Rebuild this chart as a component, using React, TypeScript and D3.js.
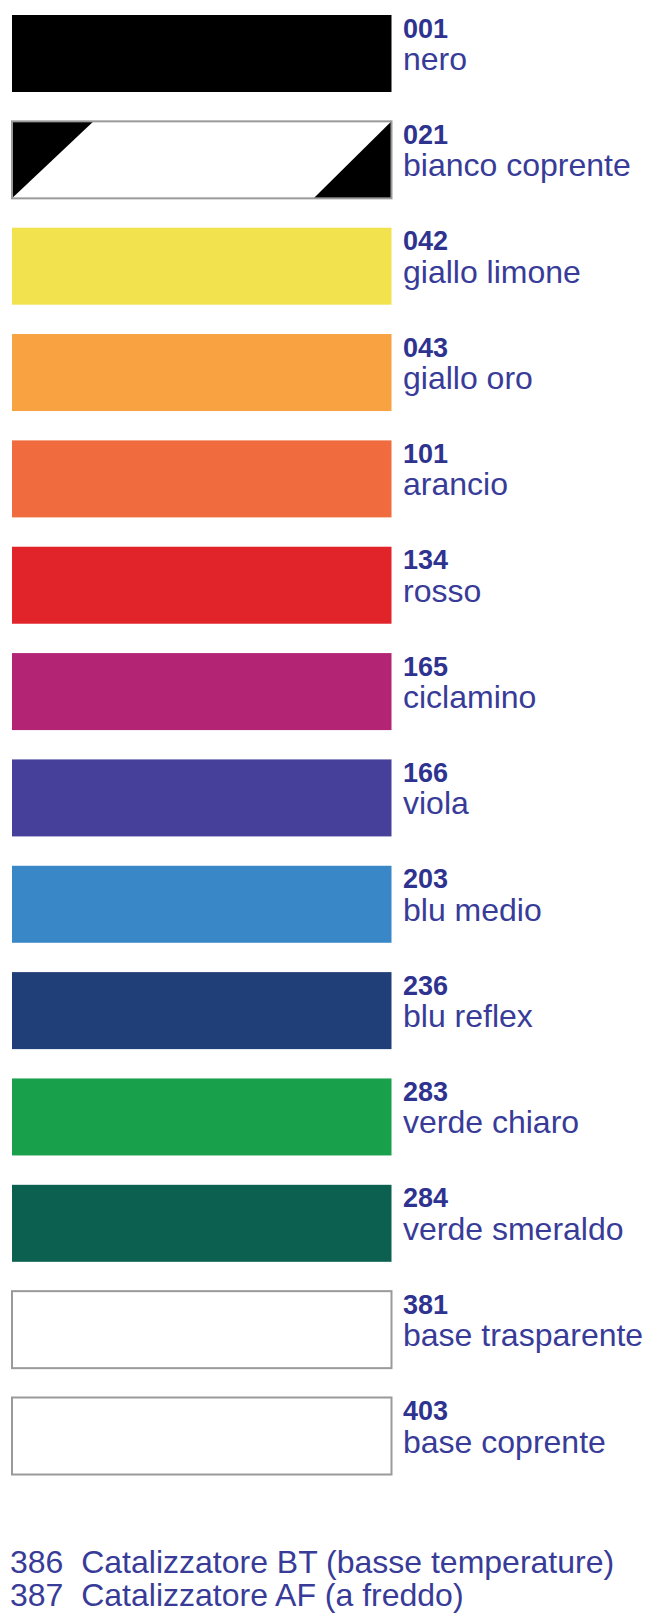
import React from "react";
import * as d3 from "d3";

const codes = ["001", "021", "042", "043", "101", "134", "165", "166", "203", "236", "283", "284", "381", "403"];
const names = [
  "nero",
  "bianco coprente",
  "giallo limone",
  "giallo oro",
  "arancio",
  "rosso",
  "ciclamino",
  "viola",
  "blu medio",
  "blu reflex",
  "verde chiaro",
  "verde smeraldo",
  "base trasparente",
  "base coprente",
];
const swatchColors = [
  "#000000",
  "#ffffff",
  "#f2e24e",
  "#f9a241",
  "#f06c3e",
  "#e1232a",
  "#b42475",
  "#46409a",
  "#3987c6",
  "#203e77",
  "#18a04a",
  "#0b604f",
  "#ffffff",
  "#ffffff",
];
const swatchKinds = ["solid", "split", "solid", "solid", "solid", "solid", "solid", "solid", "solid", "solid", "solid", "solid", "outline", "outline"];

const footerCodes = ["386", "387"];
const footerTexts = ["Catalizzatore BT (basse temperature)", "Catalizzatore AF (a freddo)"];

const W = 650;
const H = 1614;
const SW_X = 12;
const SW_W = 379.5;
const SW_H = 77;
const TEXT_X = 403;
const CODE_COLOR = "#2f3390";
const NAME_COLOR = "#383c98";
const FONT = "'Liberation Sans', Arial, Helvetica, sans-serif";

export default function App() {
  const y = d3.scalePoint<string>().domain(codes).range([15, 1397.5]);
  const fy = d3.scalePoint<string>().domain(footerCodes).range([1573, 1606]);
  const rows = codes.map((c, i) => ({ code: c, name: names[i], color: swatchColors[i], kind: swatchKinds[i] }));

  return (
    <div style={{ position: "absolute", left: 0, top: 0, width: W, height: H, background: "#fff" }}>
      <svg width={W} height={H} viewBox={`0 0 ${W} ${H}`} style={{ display: "block" }}>
        <rect x={0} y={0} width={W} height={H} fill="#fff" />
        {rows.map((r) => {
          const top = y(r.code)!;
          const x0 = SW_X;
          const x1 = SW_X + SW_W;
          const y1 = top + SW_H;
          const triL = SW_W * 0.215;
          const triR = SW_W * 0.205;
          return (
            <g key={r.code}>
              {r.kind === "solid" && <rect x={x0} y={top} width={SW_W} height={SW_H} fill={r.color} />}
              {r.kind === "split" && (
                <g>
                  <rect x={x0} y={top} width={SW_W} height={SW_H} fill="#fff" />
                  <path d={d3.line()([[x0, top], [x0 + triL, top], [x0, y1]])! + "Z"} fill="#000" />
                  <path d={d3.line()([[x1, top], [x1, y1], [x1 - triR, y1]])! + "Z"} fill="#000" />
                  <rect x={x0} y={top} width={SW_W} height={SW_H} fill="none" stroke="#9a9a9a" strokeWidth={2} />
                </g>
              )}
              {r.kind === "outline" && (
                <rect x={x0} y={top} width={SW_W} height={SW_H} fill={r.color} stroke="#9a9a9a" strokeWidth={2} />
              )}
              <text x={TEXT_X} y={top + 22.5} fontFamily={FONT} fontWeight="bold" fontSize={27} fill={CODE_COLOR}>
                {r.code}
              </text>
              <text x={TEXT_X} y={top + 55} fontFamily={FONT} fontSize={32} fill={NAME_COLOR}>
                {r.name}
              </text>
            </g>
          );
        })}
        {footerCodes.map((c, i) => (
          <text
            key={c}
            x={10}
            y={fy(c)!}
            fontFamily={FONT}
            fontSize={32}
            fill={NAME_COLOR}
            style={{ whiteSpace: "pre" }}
          >
            {`${c}  ${footerTexts[i]}`}
          </text>
        ))}
      </svg>
    </div>
  );
}
